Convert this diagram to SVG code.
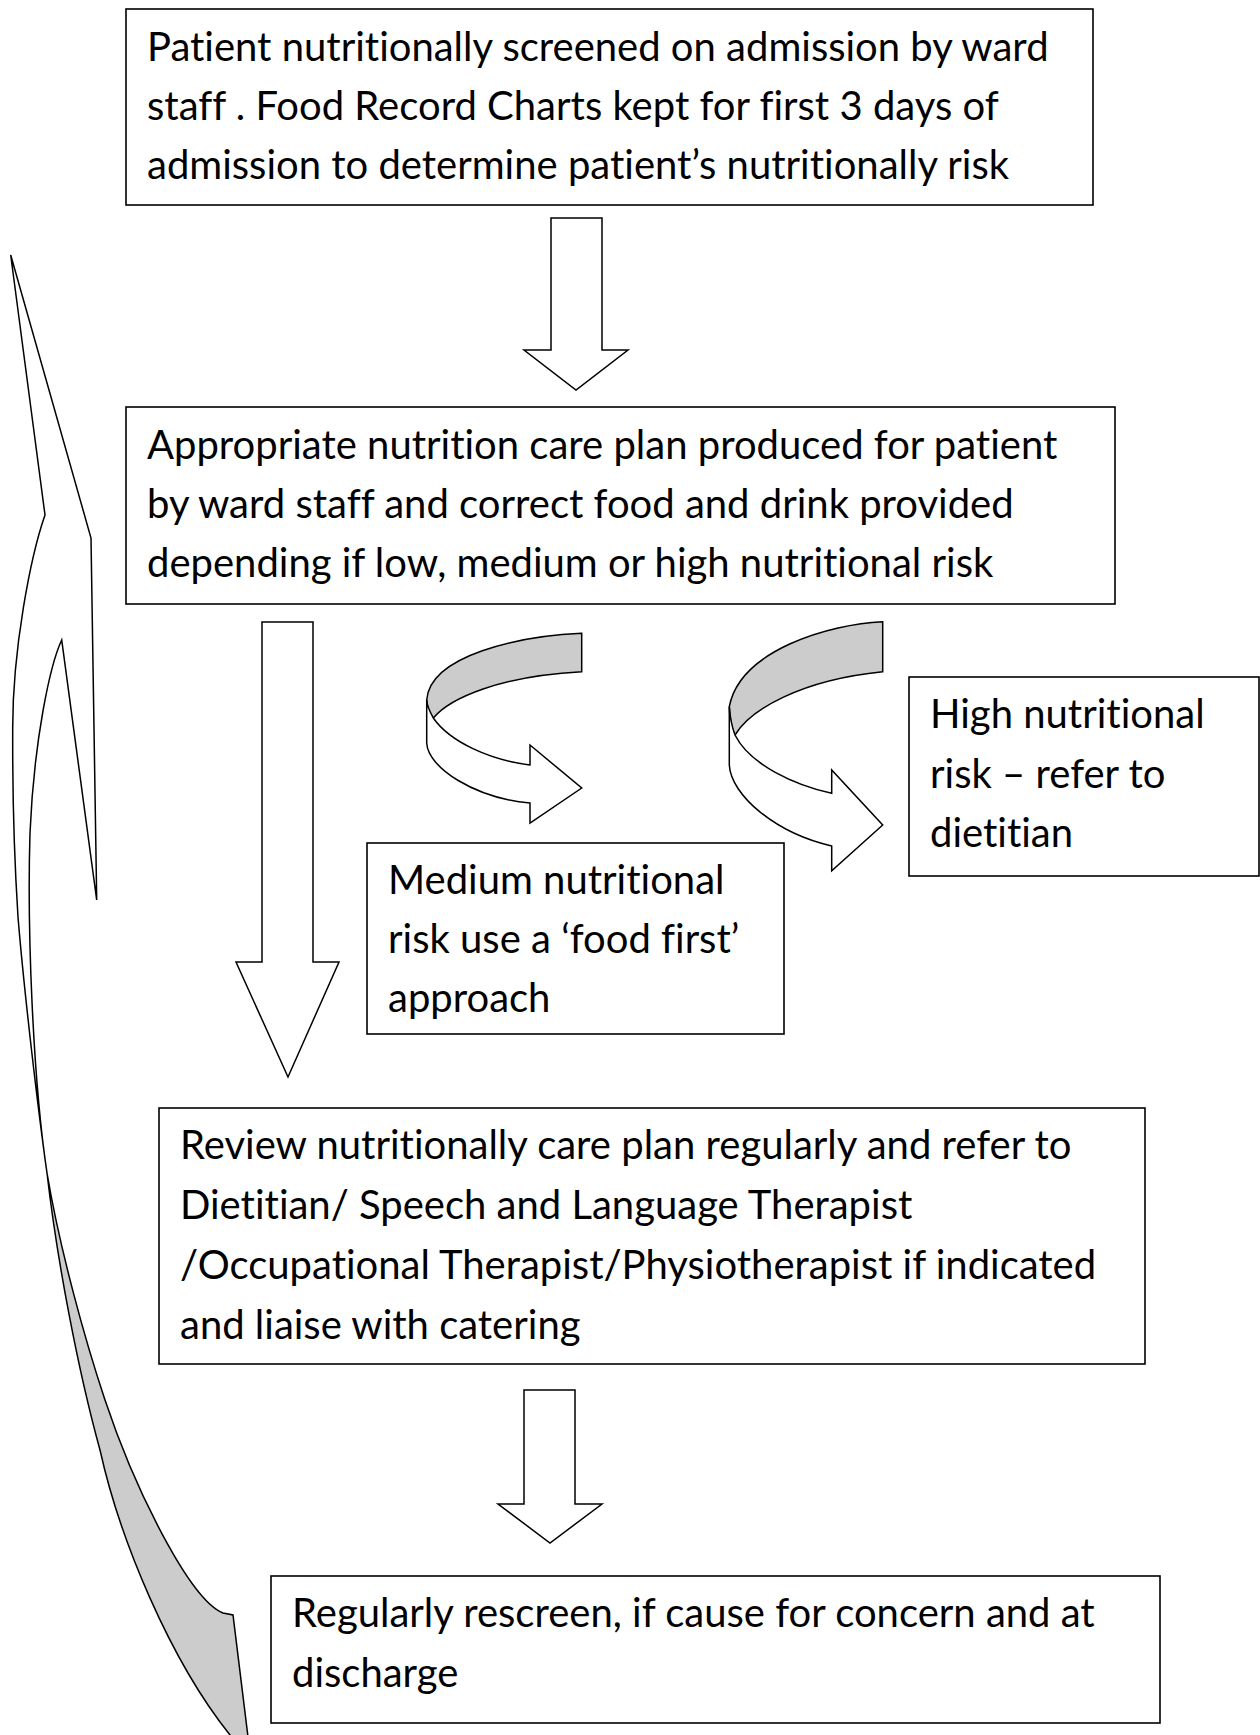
<svg xmlns="http://www.w3.org/2000/svg" width="1260" height="1735" viewBox="0 0 1260 1735">
<style>
.box{fill:#fff;stroke:#000;stroke-width:1.6}
.t{font-family:Lato,"Open Sans","Liberation Sans",sans-serif;font-size:40px;fill:#000;font-variant-ligatures:none}
.arr{fill:#fff;stroke:#000;stroke-width:1.5;stroke-linejoin:miter}
.back{fill:#cccccc;stroke:#000;stroke-width:1.5}
</style>
<rect width="1260" height="1735" fill="#fff"/>
<g id="connectors">
  <path id="arrow-1" class="arr" d="M551,218 L602,218 L602,350 L628,350 L576,390 L524,350 L551,350 Z"/>
  <path id="arrow-2" class="arr" d="M262,622 L313,622 L313,962 L339,962 L288,1077 L236,962 L262,962 Z"/>
  <path id="arrow-3" class="arr" d="M524,1390 L575,1390 L575,1504 L602,1504 L550,1543 L498,1504 L524,1504 Z"/>
  <g id="curved-medium">
    <path class="back" d="M581.7,633.3 C520,636 430,655 426.7,700 C427,707 429,713 433.3,718 C450,698 500,676 581.7,671.7 Z"/>
    <path class="arr" d="M426.7,700 L426.7,743 C428,768 475,798 530,803 L530,823 L581.7,788 L530,745 L530,765 C490,760 450,742 433.3,718 C430,712 427,706 426.7,700 Z"/>
  </g>
  <g id="curved-high">
    <path class="back" d="M882.7,621.7 C830,624 740,650 729.3,706.7 C729.5,716 731,727 735,735 C750,710 800,680 882.7,671.7 Z"/>
    <path class="arr" d="M729.3,706.7 L729.3,765 C731,795 775,833 831.7,846 L831.7,870.7 L882.7,825 L831.7,770 L831.7,793.3 C795,785 750,765 735,735 C732,727 730,716 729.3,706.7 Z"/>
  </g>
  <g id="loop-back">
    <path class="back" d="M47,1173 C60,1250 85,1340 105,1400 C135,1490 190,1600 223,1613 L233,1615 L249,1745 L231,1745 L230,1735 C170,1660 120,1540 100,1450 C78,1370 57,1260 47,1173 Z"/>
    <path class="arr" d="M10.7,255 L45,515 C31,555 12,650 12.7,733 C12.5,790 15,870 18,917 C24,990 38,1110 47,1173 C33,1080 27,930 30,833 C34,740 50,665 61.7,640 L96.7,900 L91,538 Z"/>
  </g>
</g>
<g id="node-screen">
  <rect class="box" x="126" y="9" width="967" height="196"/>
  <text class="t" x="147" y="61">Patient nutritionally screened on admission by ward</text>
  <text class="t" x="147" y="120">staff . Food Record Charts kept for first 3 days of</text>
  <text class="t" x="147" y="179">admission to determine patient’s nutritionally risk</text>
</g>
<g id="node-plan">
  <rect class="box" x="126" y="407" width="989" height="197"/>
  <text class="t" x="147" y="459">Appropriate nutrition care plan produced for patient</text>
  <text class="t" x="147" y="518">by ward staff and correct food and drink provided</text>
  <text class="t" x="147" y="577">depending if low, medium or high nutritional risk</text>
</g>
<g id="node-medium">
  <rect class="box" x="367" y="843" width="417" height="191"/>
  <text class="t" x="388" y="894">Medium nutritional</text>
  <text class="t" x="388" y="953">risk use a ‘food first’</text>
  <text class="t" x="388" y="1012">approach</text>
</g>
<g id="node-high">
  <rect class="box" x="909" y="677" width="350" height="199"/>
  <text class="t" x="930" y="728">High nutritional</text>
  <text class="t" x="930" y="788">risk – refer to</text>
  <text class="t" x="930" y="847">dietitian</text>
</g>
<g id="node-review">
  <rect class="box" x="159" y="1108" width="986" height="256"/>
  <text class="t" x="180" y="1159">Review nutritionally care plan regularly and refer to</text>
  <text class="t" x="180" y="1219">Dietitian/ Speech and Language Therapist</text>
  <text class="t" x="180" y="1279">/Occupational Therapist/Physiotherapist if indicated</text>
  <text class="t" x="180" y="1339">and liaise with catering</text>
</g>
<g id="node-rescreen">
  <rect class="box" x="271" y="1576" width="889" height="147"/>
  <text class="t" x="292" y="1627">Regularly rescreen, if cause for concern and at</text>
  <text class="t" x="292" y="1687">discharge</text>
</g>
</svg>
